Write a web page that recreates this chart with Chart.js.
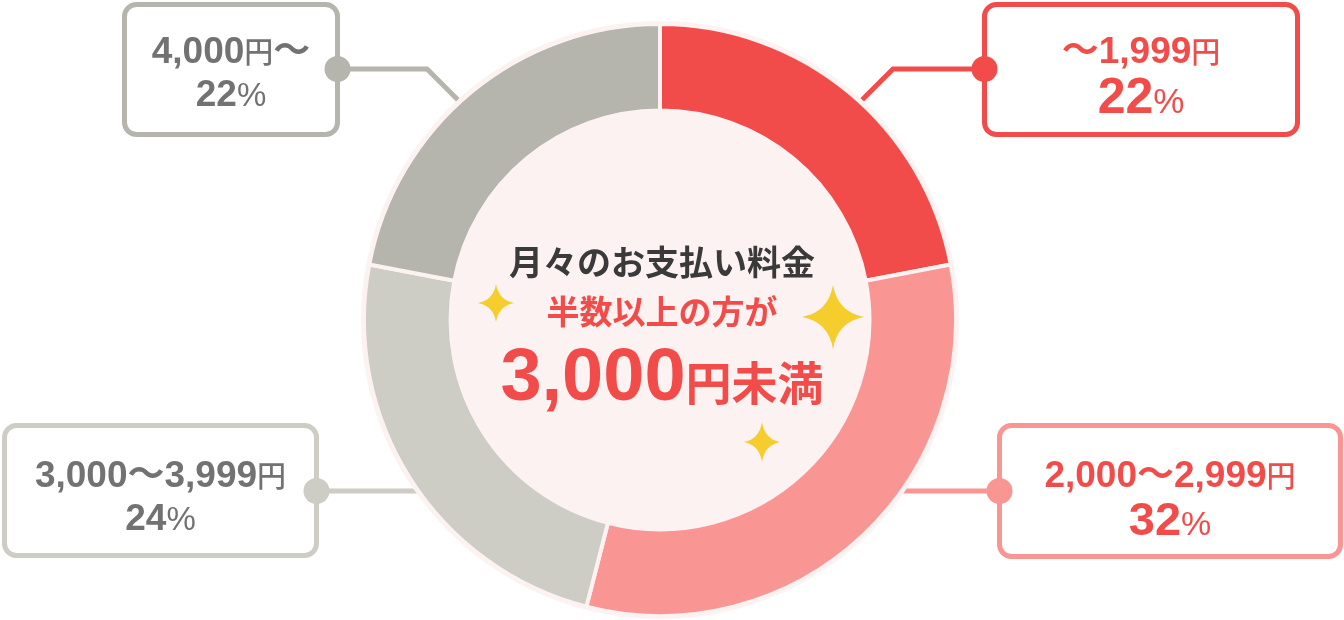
<!DOCTYPE html>
<html lang="ja">
<head>
<meta charset="utf-8">
<script src="https://cdn.jsdelivr.net/npm/chart.js@4.4.1/dist/chart.umd.min.js"></script>
<style>
html, body { margin: 0; padding: 0; background: #fff; }
#wrap { width: 1344px; height: 620px; position: relative; }
</style>
</head>
<body>
<div id="wrap"><canvas id="pay"></canvas></div>
<script>
const categories = ['～1,999円', '2,000～2,999円', '3,000～3,999円', '4,000円～'];
const shares = [22, 32, 24, 22];
const sliceColors = ['#f24c4a', '#f99593', '#cdccc5', '#b5b4ad'];
const textColors = ['#f24c4a', '#f24c4a', '#727272', '#727272'];
const centerTitle = '月々のお支払い料金';
const centerSub = '半数以上の方が';
const centerValue = '3,000';
const centerUnit = '円未満';

const JP = '"Noto Sans CJK JP"';
const EN = '"Liberation Sans", "Noto Sans CJK JP"';
const PINK = '#fdf2f2';

// callout layout, same order as the slices
const callouts = [
    {box: [984.5, 4.5, 313, 130], dot: [984.5, 69], path: [[984.5, 69], [893, 69], [800, 162]], big: 50, pct: 35, top: 63, bottom: 113},
    {box: [999.5, 425.5, 341, 131], dot: [999.5, 491], path: [[999.5, 491], [860, 491]], big: 47, pct: 34, top: 487, bottom: 535},
    {box: [4.5, 425.5, 312, 130], dot: [316.5, 491], path: [[316.5, 491], [460, 491]], big: 37, pct: 33, top: 487, bottom: 530},
    {box: [124.5, 4.5, 213, 130], dot: [337.5, 69], path: [[337.5, 69], [427, 69], [520, 162]], big: 37, pct: 33, top: 63, bottom: 106}
];

function drawRuns(ctx, runs, cx, y) {
    var total = 0;
    runs.forEach(function (r) { ctx.font = r.font; r.w = ctx.measureText(r.text).width; total += r.w; });
    var x = cx - total / 2;
    ctx.textAlign = 'left';
    ctx.textBaseline = 'alphabetic';
    runs.forEach(function (r) { ctx.font = r.font; ctx.fillStyle = r.color; ctx.fillText(r.text, x, y); x += r.w; });
}

function roundRect(ctx, x, y, w, h, r) {
    ctx.beginPath();
    ctx.moveTo(x + r, y);
    ctx.arcTo(x + w, y, x + w, y + h, r);
    ctx.arcTo(x + w, y + h, x, y + h, r);
    ctx.arcTo(x, y + h, x, y, r);
    ctx.arcTo(x, y, x + w, y, r);
    ctx.closePath();
}

function sparkle(ctx, x, y, rx, ry) {
    var k = 0.15;
    ctx.beginPath();
    ctx.moveTo(x, y - ry);
    ctx.quadraticCurveTo(x + rx * k, y - ry * k, x + rx, y);
    ctx.quadraticCurveTo(x + rx * k, y + ry * k, x, y + ry);
    ctx.quadraticCurveTo(x - rx * k, y + ry * k, x - rx, y);
    ctx.quadraticCurveTo(x - rx * k, y - ry * k, x, y - ry);
    ctx.fill();
}

const ringPlugin = {
    id: 'ring',
    beforeDatasetsDraw(chart) {
        const ctx = chart.ctx;
        const arc = chart.getDatasetMeta(0).data[0];
        // connector lines first, the ring covers their ends
        callouts.forEach(function (c, i) {
            ctx.save();
            ctx.strokeStyle = sliceColors[i];
            ctx.lineWidth = 5;
            ctx.beginPath();
            c.path.forEach(function (p, k) { if (k) ctx.lineTo(p[0], p[1]); else ctx.moveTo(p[0], p[1]); });
            ctx.stroke();
            ctx.restore();
        });
        ctx.save();
        ctx.fillStyle = PINK;
        ctx.beginPath();
        ctx.arc(arc.x, arc.y, arc.outerRadius + 3, 0, Math.PI * 2);
        ctx.fill();
        ctx.restore();
    },
    afterDraw(chart) {
        const ctx = chart.ctx;
        const arc = chart.getDatasetMeta(0).data[0];
        ctx.save();
        callouts.forEach(function (c, i) {
            var b = c.box;
            roundRect(ctx, b[0], b[1], b[2], b[3], 12);
            ctx.fillStyle = '#fff';
            ctx.fill();
            ctx.lineWidth = 5;
            ctx.strokeStyle = sliceColors[i];
            ctx.stroke();
            ctx.fillStyle = sliceColors[i];
            ctx.beginPath();
            ctx.arc(c.dot[0], c.dot[1], 13, 0, Math.PI * 2);
            ctx.fill();

            var cx = b[0] + b[2] / 2;
            var runs = categories[i].split(/(円)/).filter(function (s) { return s; }).map(function (s) {
                return {text: s, color: textColors[i], font: s === '円' ? '500 29px ' + JP : 'bold 37px ' + EN};
            });
            drawRuns(ctx, runs, cx, c.top);
            drawRuns(ctx, [
                {text: String(shares[i]), color: textColors[i], font: 'bold ' + c.big + 'px ' + EN},
                {text: '%', color: textColors[i], font: c.pct + 'px ' + EN}
            ], cx, c.bottom);
        });

        var mx = arc.x + 2;
        ctx.textAlign = 'center';
        ctx.textBaseline = 'middle';
        ctx.fillStyle = '#3a3a3a';
        ctx.font = 'bold 34px ' + JP;
        ctx.fillText(centerTitle, mx, 262);
        ctx.fillStyle = '#f24c4a';
        ctx.font = 'bold 33px ' + JP;
        ctx.fillText(centerSub, mx, 311);
        drawRuns(ctx, [
            {text: centerValue, color: '#f24c4a', font: 'bold 74px ' + EN},
            {text: centerUnit, color: '#f24c4a', font: 'bold 46px ' + JP}
        ], mx, 400);

        ctx.fillStyle = '#f5cd2c';
        sparkle(ctx, 496, 303, 18, 19);
        sparkle(ctx, 833, 317, 31, 32);
        sparkle(ctx, 762, 442, 18, 20);
        ctx.restore();
    }
};

const pay = new Chart(
    document.getElementById('pay'),
    {
    type: 'doughnut',
    data: {
        labels: categories,
        datasets: [{
            data: shares,
            backgroundColor: sliceColors,
            borderColor: PINK,
            borderWidth: 4,
            hoverOffset: 0
        }]
    },
    options: {
        responsive: true,
        maintainAspectRatio: false,
        animation: false,
        events: [],
        radius: 296,
        cutout: 208,
        layout: {
            padding: {left: 364, right: 388, top: 24, bottom: 4}
        },
        plugins: {
            legend: {display: false},
            tooltip: {enabled: false}
        }
    },
    plugins: [ringPlugin]
    }
);
</script>
</body>
</html>
